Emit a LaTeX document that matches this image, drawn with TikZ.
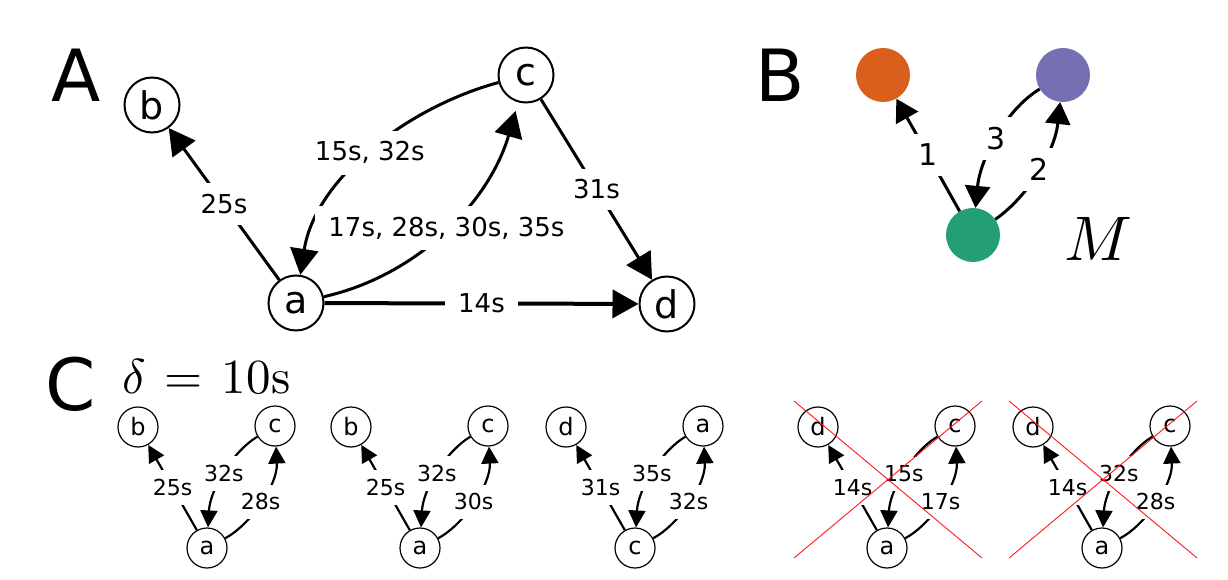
\documentclass[tikz,border=0pt]{standalone}
\usepackage{graphicx}
\usepackage{fontspec}
\newfontfamily\dvs{DejaVu Sans}
\usetikzlibrary{arrows.meta}

\definecolor{dkorange}{HTML}{D95F1D}
\definecolor{dkpurple}{HTML}{7570B1}
\definecolor{dkgreen}{HTML}{239E77}

\tikzset{
  panelletter/.style={anchor=base west, inner sep=0pt, font=\dvs\fontsize{72}{72}\selectfont},
  mathlbl/.style={anchor=base west, inner sep=0pt},
  bnode/.style={circle, draw, line width=2pt, fill=white, minimum size=55pt, inner sep=0pt,
                font=\dvs\fontsize{38}{38}\selectfont},
  aedge/.style={line width=3pt, -{Triangle[length=26pt,width=28pt]}},
  albl/.style={fill=white, inner xsep=13pt, inner ysep=11pt, font=\dvs\fontsize{26}{26}\selectfont},
  dotnode/.style={circle, minimum size=54pt, inner sep=0pt},
  bedge/.style={line width=3pt, -{Triangle[length=22pt,width=25pt]}},
  blbl/.style={fill=white, inner xsep=9pt, inner ysep=10pt, font=\dvs\fontsize{30}{30}\selectfont},
  snode/.style={circle, draw, line width=1.2pt, fill=white, minimum size=40pt, inner sep=0pt,
                font=\dvs\fontsize{24}{24}\selectfont},
  sedge/.style={line width=2.2pt, -{Triangle[length=17pt,width=17pt]}},
  slbl/.style={fill=white, inner xsep=4pt, inner ysep=9pt, font=\dvs\fontsize{22}{22}\selectfont},
  xmark/.style={draw=red!90!white, line width=0.9pt}
}

% one motif: bottom node with a straight edge to the left node and a
% pair of opposite curved edges to the right node
\newcommand\motif[8]{%
  \begin{scope}[shift={(#2,548)}]
    \node[snode] (#1B) at (0,0) {#3};
    \node[snode] (#1L) at (-69,-121) {#4};
    \node[snode] (#1R) at (68,-122) {#5};
    \draw[sedge] (#1B) -- node[slbl] {#6} (#1L);
    \draw[sedge] (#1R) .. controls (25,-96) and (3,-58) .. node[slbl] {#7} (#1B);
    \draw[sedge] (#1B) .. controls (43,-23) and (71,-63) .. node[slbl] {#8} (#1R);
  \end{scope}}

\begin{document}
\begin{tikzpicture}[x=1pt, y=-1pt]
  \useasboundingbox (0,0) rectangle (1228,580);

  % ---------- A: temporal network ----------
  \node[panelletter] (lA) at (51,102) {A};
  \node[bnode] (a) at (296,303) {a};
  \node[bnode] (b) at (152,105) {b};
  \node[bnode] (c) at (526,75) {c};
  \node[bnode] (d) at (667,304) {d};
  \draw[aedge] (a) -- node[albl] {25s} (b);
  \draw[aedge] (c) .. controls (405,108) and (315,180) .. node[albl] {15s, 32s} (a);
  \draw[aedge, shorten >=9pt] (a) .. controls (420,275) and (490,200) .. node[albl] {17s, 28s, 30s, 35s} (c);
  \draw[aedge] (c) -- node[albl] {31s} (d);
  \draw[aedge, line width=4pt] (a) -- node[albl] {14s} (d);

  % ---------- B: motif M ----------
  \node[panelletter] (lB) at (755,102) {B};
  \node[dotnode, fill=dkorange] (o) at (883,75) {};
  \node[dotnode, fill=dkpurple] (p) at (1063,75) {};
  \node[dotnode, fill=dkgreen] (g) at (973,235) {};
  \draw[bedge] (g) -- node[blbl] {1} (o);
  \draw[bedge] (p) .. controls (1005,110) and (980,160) .. node[blbl] {3} (g);
  \draw[bedge] (g) .. controls (1030,195) and (1055,150) .. node[blbl] {2} (p);
  \node[mathlbl] (mname) at (1064,260) {\scalebox{6.3}{$M$}};

  % ---------- C: motif instances ----------
  \node[panelletter] (lC) at (45,410) {C};
  \node[mathlbl] (delta) at (122,393) {\scalebox{4.9}{$\delta \mskip2mu = \mskip2mu 10\mathrm{s}$}};

  \motif{m1}{207}{a}{b}{c}{25s}{32s}{28s}
  \motif{m2}{420}{a}{b}{c}{25s}{32s}{30s}
  \motif{m3}{635}{c}{d}{a}{31s}{35s}{32s}
  \motif{m4}{887}{a}{d}{c}{14s}{15s}{17s}
  \motif{m5}{1102}{a}{d}{c}{14s}{32s}{28s}

  % crosses over the rejected instances
  \coordinate (x4nw) at (794,401); \coordinate (x4se) at (982,558);
  \coordinate (x4sw) at (794,558); \coordinate (x4ne) at (982,401);
  \draw[xmark] (x4nw) -- (x4se);
  \draw[xmark] (x4sw) -- (x4ne);
  \coordinate (x5nw) at (1009,401); \coordinate (x5se) at (1197,558);
  \coordinate (x5sw) at (1009,558); \coordinate (x5ne) at (1197,401);
  \draw[xmark] (x5nw) -- (x5se);
  \draw[xmark] (x5sw) -- (x5ne);
\end{tikzpicture}
\end{document}
